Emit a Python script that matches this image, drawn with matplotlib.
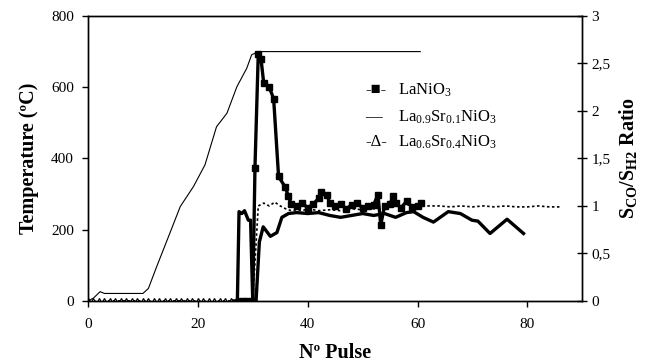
import numpy as np
import matplotlib
matplotlib.use("Agg")
import matplotlib.pyplot as plt

plt.rcParams['font.family'] = ['Liberation Serif', 'DejaVu Sans']
plt.rcParams['mathtext.fontset'] = 'custom'
plt.rcParams['mathtext.rm'] = 'Liberation Serif'
plt.rcParams['mathtext.it'] = 'Liberation Serif:italic'
plt.rcParams['mathtext.bf'] = 'Liberation Serif:bold'

# temperature (left axis)
temp_x = [0, 1, 2.2, 3, 10, 11, 12.5, 14.9, 16.8, 19.2, 21.3, 23.4, 25.3, 27.1, 28.9, 29.8, 31, 60.5]
temp_y = [0, 8, 26, 21, 21, 35, 96, 190, 265, 321, 382, 489, 527, 601, 653, 691, 700, 700]

# LaNiO3 ratio (right axis)
la_x = [28, 29, 30, 30.4, 31, 31.5, 32, 33, 33.8, 34.7, 35.9, 36.5, 37, 38, 39, 40, 41, 42, 42.5, 43.5,
        44, 45, 46, 47, 48, 49, 50, 51, 52, 52.8, 53.3, 54, 55, 55.5, 56, 57, 58, 59, 60, 60.6]
la_y = [0, 0, 0, 1.4, 2.6, 2.55, 2.29, 2.25, 2.13, 1.31, 1.2, 1.1, 1.02, 1.0, 1.03, 0.98, 1.02, 1.08, 1.15, 1.12,
        1.03, 1.0, 1.02, 0.97, 1.01, 1.03, 0.98, 1.0, 1.01, 1.12, 0.8, 1.0, 1.02, 1.1, 1.03, 0.98, 1.05, 0.99, 1.0, 1.03]

# La0.9Sr0.1NiO3 ratio
sr1_x = [26.5, 27.2, 27.5, 28, 28.5, 29.2, 29.6, 30, 30.6, 31.2, 31.9, 33.2, 34.4, 35.3, 36.5, 38, 40, 42, 44,
         46, 48, 50, 52, 54, 56, 58, 59.3, 61, 62.9, 65.6, 67.8, 69.9, 71, 73.2, 76.3, 77.5, 79.3]
sr1_y = [0, 0, 0.94, 0.92, 0.95, 0.85, 0.85, 0, 0, 0.62, 0.78, 0.68, 0.72, 0.88, 0.92, 0.93, 0.92, 0.93, 0.9,
         0.88, 0.9, 0.92, 0.9, 0.92, 0.88, 0.93, 0.94, 0.88, 0.83, 0.94, 0.92, 0.85, 0.84, 0.71, 0.86, 0.8, 0.71]

# La0.6Sr0.4NiO3 ratio
sr4_x = [0, 1, 2, 3, 4, 5, 6, 7, 8, 9, 10, 11, 12, 13, 14, 15, 16, 17, 18, 19, 20, 21, 22, 23, 24, 25, 26, 27,
         28, 29, 30, 30.5, 31, 32, 33, 34, 35, 36, 37, 38, 39, 40, 42, 44, 46, 48, 50,
         52, 54, 56, 58, 60, 62, 64, 66, 68, 70, 72, 74, 76, 78, 80, 82, 84, 86]
sr4_y = [0] * 31 + [0.5, 1.0, 1.03, 1.0, 1.04, 1.0, 0.97, 0.95, 0.96, 0.95, 0.97,
                    0.95, 0.96, 0.95, 0.97, 0.96, 0.97, 0.98, 1.0, 1.01, 1.0, 1.0, 1.0, 0.99, 1.0, 0.99, 1.0, 0.99,
                    1.0, 0.99, 0.99, 1.0, 0.99, 0.99]

x_ticks = [0, 20, 40, 60, 80]
t_ticks = [0, 200, 400, 600, 800]
r_ticks = [0, 0.5, 1, 1.5, 2, 2.5, 3]
r_labels = ['0', '0,5', '1', '1,5', '2', '2,5', '3']

legend_keys = ['-■-', '—', '-Δ-']
legend_names = ['LaNiO$_3$', r'La$_{0.9}$Sr$_{0.1}$NiO$_3$', r'La$_{0.6}$Sr$_{0.4}$NiO$_3$']

fig = plt.figure(figsize=(6.47, 3.63), dpi=100)
ax = fig.add_axes([0.136, 0.171, 0.764, 0.785])
ax2 = ax.twinx()

ax.plot(temp_x, temp_y, color='black', lw=0.8)

ax2.plot(sr4_x, sr4_y, color='black', lw=1.2, ls=(0, (1.5, 1.5)), marker='^', ms=4.8,
         mfc='white', mec='black', mew=0.9, markevery=list(range(31)))
ax2.plot(sr1_x, sr1_y, color='black', lw=2.4)
ax2.plot(la_x, la_y, color='black', lw=2.4, marker='s', ms=5)

ax.set_xlim(0, 90)
ax.set_ylim(0, 800)
ax2.set_ylim(0, 3)
ax.set_xticks(x_ticks)
ax.set_yticks(t_ticks)
ax2.set_yticks(r_ticks)
ax2.set_yticklabels(r_labels)

for a in (ax, ax2):
    for s in a.spines.values():
        s.set_linewidth(1.0)
ax.tick_params(axis='x', direction='out', labelsize=11, length=4, width=1, pad=8)
ax.tick_params(axis='y', direction='out', labelsize=11, length=4, width=1, pad=6)
ax2.tick_params(axis='y', direction='inout', labelsize=11, length=7, width=1, pad=3)

ax.set_xlabel('Nº Pulse', fontsize=14.5, fontweight='bold', labelpad=9)
ax.set_ylabel('Temperature (ºC)', fontsize=14.5, fontweight='bold', labelpad=9)
ax2.set_ylabel(r'S$_{\mathbf{CO}}$/S$_{\mathbf{H2}}$ Ratio', fontsize=14.5, fontweight='bold', labelpad=5)

row_y = [0.74, 0.646, 0.558]
for key, name, yy in zip(legend_keys, legend_names, row_y):
    ax2.text(0.561, yy, key, transform=ax2.transAxes, fontsize=12, va='center', ha='left')
    ax2.text(0.628, yy, name, transform=ax2.transAxes, fontsize=12, va='center', ha='left')

fig.savefig('out.png', dpi=100)
